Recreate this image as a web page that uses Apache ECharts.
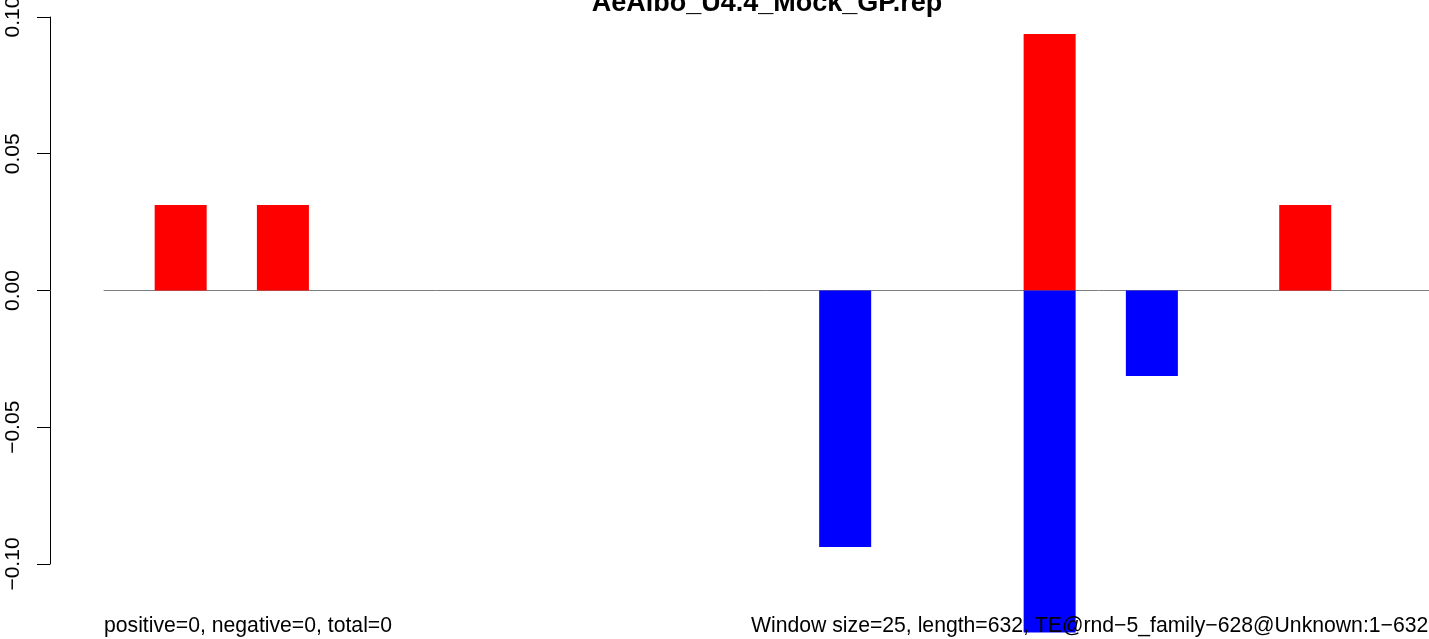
<!DOCTYPE html>
<html>
<head>
<meta charset="utf-8">
<script src="https://cdn.jsdelivr.net/npm/echarts@6/dist/echarts.min.js"></script>
<style>
html,body{margin:0;padding:0;background:#fff;}
#chart{width:1429px;height:639px;}
</style>
</head>
<body>
<div id="chart"></div>
<script>
// Window centres (in window units, window size = 25 bp)
var positivePos = [1.5, 3.5, 18.5, 23.5];
var positiveVals = [0.03125, 0.03125, 0.09375, 0.03125];
var negativePos = [14.5, 18.5, 20.5];
var negativeVals = [-0.09375, -0.125, -0.03125];
var yTicks = [-0.10, -0.05, 0.00, 0.05, 0.10];
var titleText = 'AeAlbo_U4.4_Mock_GP.rep';
var leftNote = 'positive=0, negative=0, total=0';
var rightNote = 'Window size=25, length=632, TE@rnd\u22125_family\u2212628@Unknown:1\u2212632';

function pairs(xs, ys){ return xs.map(function(x,i){ return [x, ys[i]]; }); }

var FONT = '"Liberation Sans", Arial, Helvetica, sans-serif';
var chart = echarts.init(document.getElementById('chart'), null, {renderer:'canvas'});
chart.setOption({
  animation: false,
  backgroundColor: '#ffffff',
  grid: {left: 104, top: 17, width: 1329, height: 547, containLabel: false, outerBoundsMode: 'none'},
  xAxis: {
    type: 'value', min: 0, max: 26,
    axisLine: {show: true, onZero: true, lineStyle: {color: '#808080', width: 1}},
    axisTick: {show: false}, axisLabel: {show: false}, splitLine: {show: false}
  },
  yAxis: {
    type: 'value', min: yTicks[0], max: yTicks[yTicks.length-1], interval: 0.05,
    offset: 54,
    axisLine: {show: true, onZero: false, lineStyle: {color: '#000', width: 1}},
    axisTick: {show: true, length: 13, inside: false, lineStyle: {color: '#000', width: 1}},
    splitLine: {show: false},
    axisLabel: {
      rotate: 90, margin: 26, color: '#000', fontSize: 21, fontFamily: FONT,
      formatter: function(v){ return v.toFixed(2).replace('-', '\u2212'); }
    }
  },
  series: [
    {type: 'bar', name: 'pos', data: pairs(positivePos, positiveVals), barWidth: 52, barGap: '-100%',
     clip: false, itemStyle: {color: '#ff0000'}, z: 3},
    {type: 'bar', name: 'neg', data: pairs(negativePos, negativeVals), barWidth: 52, barGap: '-100%',
     clip: false, itemStyle: {color: '#0000ff'}, z: 3}
  ],
  graphic: [
    {type: 'text', x: 767, y: 4, z: 100, style: {text: titleText, font: 'bold 27px ' + FONT, fill: '#000', textAlign: 'center', textVerticalAlign: 'middle'}},
    {type: 'text', x: 104, y: 626, z: 100, style: {text: leftNote, font: '21.2px ' + FONT, fill: '#000', textAlign: 'left', textVerticalAlign: 'middle'}},
    {type: 'text', x: 751, y: 626, z: 100, style: {text: rightNote, font: '21.2px ' + FONT, fill: '#000', textAlign: 'left', textVerticalAlign: 'middle'}}
  ]
});
</script>
</body>
</html>
